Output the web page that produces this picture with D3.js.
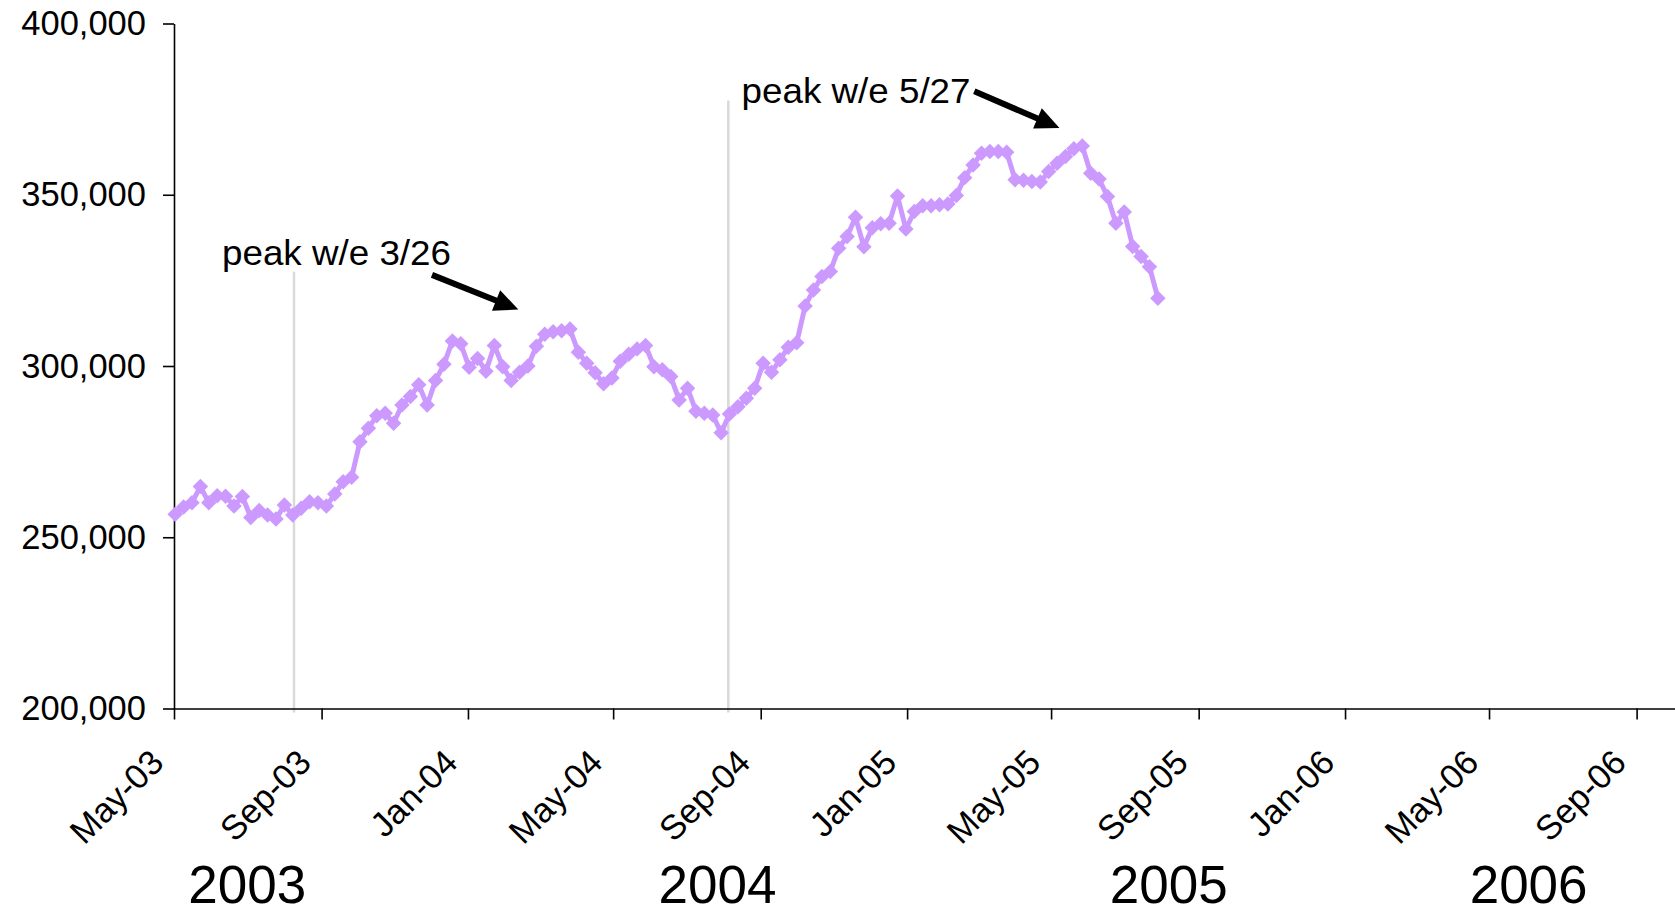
<!DOCTYPE html>
<html>
<head>
<meta charset="utf-8">
<script src="https://cdn.jsdelivr.net/npm/d3@7"></script>
<style>
  html, body { margin: 0; padding: 0; background: #fff; }
  svg { display: block; }
  text { font-family: "Liberation Sans", Arial, Helvetica, sans-serif; fill: #000; }
</style>
</head>
<body>
<svg id="chart" width="1675" height="915"></svg>
<script>
// ---------------- data ----------------
const weekEnding = [
  "2003-05-02","2003-05-09","2003-05-16","2003-05-23","2003-05-30","2003-06-06","2003-06-13","2003-06-20","2003-06-27",
  "2003-07-04","2003-07-11","2003-07-18","2003-07-25","2003-08-01","2003-08-08","2003-08-15","2003-08-22","2003-08-29",
  "2003-09-05","2003-09-12","2003-09-19","2003-09-26","2003-10-03","2003-10-10","2003-10-17","2003-10-24","2003-10-31",
  "2003-11-07","2003-11-14","2003-11-21","2003-11-28","2003-12-05","2003-12-12","2003-12-19","2003-12-26",
  "2004-01-02","2004-01-09","2004-01-16","2004-01-23","2004-01-30","2004-02-06","2004-02-13","2004-02-20","2004-02-27",
  "2004-03-05","2004-03-12","2004-03-19","2004-03-26","2004-04-02","2004-04-09","2004-04-16","2004-04-23","2004-04-30",
  "2004-05-07","2004-05-14","2004-05-21","2004-05-28","2004-06-04","2004-06-11","2004-06-18","2004-06-25",
  "2004-07-02","2004-07-09","2004-07-16","2004-07-23","2004-07-30","2004-08-06","2004-08-13","2004-08-20","2004-08-27",
  "2004-09-03","2004-09-10","2004-09-17","2004-09-24","2004-10-01","2004-10-08","2004-10-15","2004-10-22","2004-10-29",
  "2004-11-05","2004-11-12","2004-11-19","2004-11-26","2004-12-03","2004-12-10","2004-12-17","2004-12-24","2004-12-31",
  "2005-01-07","2005-01-14","2005-01-21","2005-01-28","2005-02-04","2005-02-11","2005-02-18","2005-02-25",
  "2005-03-04","2005-03-11","2005-03-18","2005-03-25","2005-04-01","2005-04-08","2005-04-15","2005-04-22","2005-04-29",
  "2005-05-06","2005-05-13","2005-05-20","2005-05-27","2005-06-03","2005-06-10","2005-06-17","2005-06-24",
  "2005-07-01","2005-07-08","2005-07-15","2005-07-22","2005-07-29"
];

const weeklyValues = [
  256700,258800,260100,264800,260100,262100,262000,259100,261900,
  255800,257800,256500,255300,259400,256500,258500,260400,260100,
  259100,262600,266200,267500,277900,281800,285500,286200,283300,
  288600,291100,294500,288600,295800,300500,307300,306500,
  299600,302200,298500,306000,299800,295800,298200,300000,305800,
  309300,310000,310300,310800,304000,300800,298000,294800,296500,
  301400,303400,305000,306000,299800,298900,296900,290100,
  293500,286800,286200,285700,280500,286000,288100,290600,293500,
  300800,298200,301800,305500,306800,317500,322200,326100,327600,
  334400,337800,343400,334800,340400,341500,341700,349600,340000,
  345100,346800,346800,347100,347300,349800,355000,358700,
  362100,362600,362600,362400,354400,354200,353900,353700,356800,
  359200,361200,363400,364200,356300,354600,349500,341700,
  345000,334900,332000,329000,319800
];

const yTickValues = [200000, 250000, 300000, 350000, 400000];
const xTickDates = ["2003-05-01","2003-09-01","2004-01-01","2004-05-01","2004-09-01","2005-01-01",
                    "2005-05-01","2005-09-01","2006-01-01","2006-05-01","2006-09-01"];
const yearLabels = ["2003", "2004", "2005", "2006"];
const yearLabelDates = ["2003-07-01", "2004-07-27", "2005-08-07", "2006-06-03"];

const markerLineDates = ["2003-08-09", "2004-08-05"];
const markerLineTops = [327500, 377500];

const annotationTexts = ["peak w/e 3/26", "peak w/e 5/27"];
const annotationTextDates = ["2003-06-10", "2004-08-16"];
const annotationTextValues = [329500, 376800];
const arrowFromDates = ["2003-12-02", "2005-02-26"];
const arrowFromValues = [326600, 380200];
const arrowToDates = ["2004-02-12", "2005-05-08"];
const arrowToValues = [316500, 369500];

// ---------------- drawing ----------------
const parse = d3.utcParse("%Y-%m-%d");
const svg = d3.select("#chart");

const x = d3.scaleUtc()
  .domain([parse("2003-05-01"), parse("2006-10-03")])
  .range([174, 1675]);
const y = d3.scaleLinear()
  .domain([200000, 400000])
  .range([708.5, 23.5]);

const LINE_COLOR = "#cc99ff";

// gray vertical marker lines (behind)
svg.append("g").selectAll("line")
  .data(markerLineDates.map((d, i) => ({ date: parse(d), top: markerLineTops[i] })))
  .join("line")
  .attr("x1", d => x(d.date)).attr("x2", d => x(d.date))
  .attr("y1", d => y(d.top)).attr("y2", y(200000) + 4)
  .attr("stroke", "#d9d9d9").attr("stroke-width", 2.5);

// y axis
const yAxis = svg.append("g")
  .attr("transform", `translate(${x.range()[0]},0)`)
  .call(d3.axisLeft(y).tickValues(yTickValues).tickSize(11).tickSizeOuter(0)
        .tickPadding(17).tickFormat(d3.format(",")));
yAxis.select(".domain").attr("stroke", "#000").attr("stroke-width", 1.6);
yAxis.selectAll(".tick line").attr("stroke", "#000").attr("stroke-width", 1.6);
yAxis.selectAll(".tick text").style("font-size", "34.5px")
  .style("font-family", '"Liberation Sans", Arial, sans-serif').attr("fill", "#000");

// x axis
const xAxis = svg.append("g")
  .attr("transform", `translate(0,${y(200000)})`)
  .call(d3.axisBottom(x).tickValues(xTickDates.map(parse)).tickSize(11).tickSizeOuter(0)
        .tickFormat(d3.utcFormat("%b-%y")));
xAxis.select(".domain").attr("stroke", "#000").attr("stroke-width", 1.6);
xAxis.selectAll(".tick line").attr("stroke", "#000").attr("stroke-width", 1.6);
xAxis.selectAll(".tick text")
  .attr("x", 0).attr("y", 0).attr("dy", 0)
  .attr("text-anchor", "end")
  .attr("transform", "translate(-9,56) rotate(-45)")
  .style("font-size", "34.5px")
  .style("font-family", '"Liberation Sans", Arial, sans-serif').attr("fill", "#000");

// series
const series = weekEnding.map((d, i) => ({ date: parse(d), value: weeklyValues[i] }));
svg.append("path")
  .datum(series)
  .attr("fill", "none")
  .attr("stroke", LINE_COLOR)
  .attr("stroke-width", 5)
  .attr("stroke-linejoin", "round")
  .attr("d", d3.line().x(d => x(d.date)).y(d => y(d.value)));

const diamond = d3.symbol().type(d3.symbolSquare).size(120);
svg.append("g").selectAll("path")
  .data(series)
  .join("path")
  .attr("d", diamond)
  .attr("transform", d => `translate(${x(d.date)},${y(d.value)}) rotate(45)`)
  .attr("fill", LINE_COLOR);

// year labels
svg.append("g").selectAll("text")
  .data(yearLabels.map((t, i) => ({ text: t, date: parse(yearLabelDates[i]) })))
  .join("text")
  .attr("x", d => x(d.date))
  .attr("y", 903)
  .attr("text-anchor", "middle")
  .style("font-size", "53px")
  .text(d => d.text);

// annotations
svg.append("g").selectAll("text")
  .data(annotationTexts.map((t, i) => ({ text: t, date: parse(annotationTextDates[i]), value: annotationTextValues[i] })))
  .join("text")
  .attr("x", d => x(d.date))
  .attr("y", d => y(d.value))
  .attr("textLength", 229)
  .attr("lengthAdjust", "spacingAndGlyphs")
  .style("font-size", "35px")
  .text(d => d.text);

// arrows
const arrows = arrowFromDates.map((d, i) => ({
  x1: x(parse(d)), y1: y(arrowFromValues[i]),
  x2: x(parse(arrowToDates[i])), y2: y(arrowToValues[i])
}));
const HEAD_LEN = 24, HEAD_HALF = 11, SHAFT = 6;
arrows.forEach(a => {
  const dx = a.x2 - a.x1, dy = a.y2 - a.y1;
  const L = Math.hypot(dx, dy);
  const ux = dx / L, uy = dy / L, px = -uy, py = ux;
  const bx = a.x2 - ux * HEAD_LEN, by = a.y2 - uy * HEAD_LEN;
  svg.append("line")
    .attr("x1", a.x1).attr("y1", a.y1).attr("x2", bx + ux * 2).attr("y2", by + uy * 2)
    .attr("stroke", "#000").attr("stroke-width", SHAFT);
  svg.append("path")
    .attr("d", `M${a.x2},${a.y2} L${bx + px * HEAD_HALF},${by + py * HEAD_HALF} L${bx - px * HEAD_HALF},${by - py * HEAD_HALF} Z`)
    .attr("fill", "#000");
});
</script>
</body>
</html>
